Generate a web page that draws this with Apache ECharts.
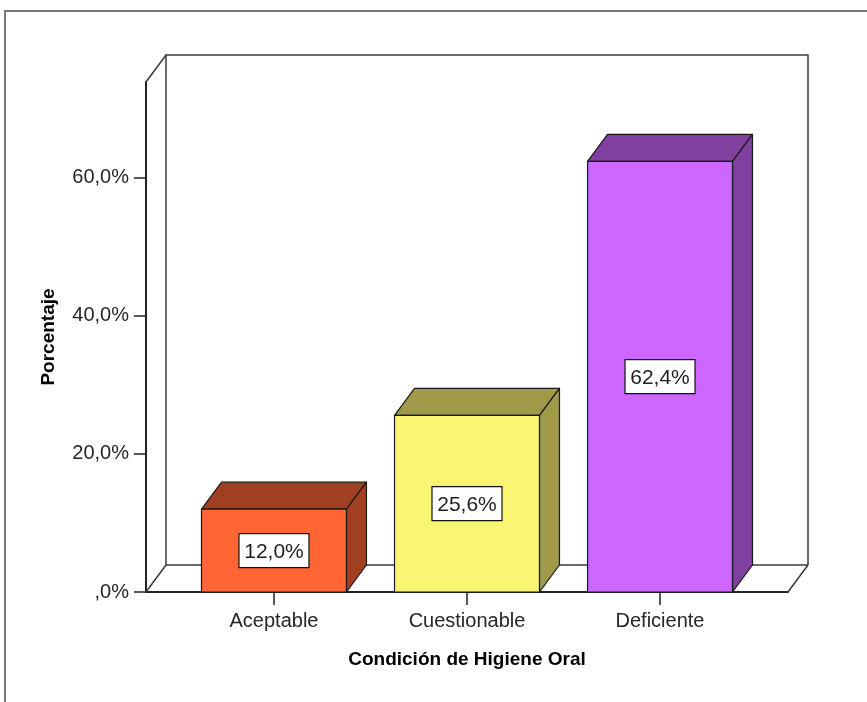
<!DOCTYPE html>
<html>
<head>
<meta charset="utf-8">
<script src="https://cdn.jsdelivr.net/npm/echarts@6/dist/echarts.min.js"></script>
<style>
  html, body { margin: 0; padding: 0; background: #fff; }
  #chart { width: 867px; height: 702px; }
</style>
</head>
<body>
<div id="chart"></div>
<script>
// ---- data ----
const categories = ['Aceptable', 'Cuestionable', 'Deficiente'];
const percentages = [12.0, 25.6, 62.4];
const valueLabels = ['12,0%', '25,6%', '62,4%'];
const tickValues = [0, 20, 40, 60];
const tickLabels = [',0%', '20,0%', '40,0%', '60,0%'];
const categoryPositions = [0, 1, 2];
const xAxisTitle = 'Condición de Higiene Oral';
const yAxisTitle = 'Porcentaje';

// ---- style ----
const frontColors = ['#FF6633', '#F9F573', '#CC66FF'];
const shadeColors = ['#A04020', '#A09948', '#8040A0'];
const X_MIN = -0.663, X_MAX = 2.663, Y_MAX = 73.9;
const BAR_W = 0.751;
const DX = 20, DY = 27;
const FONT = '"Liberation Sans", Arial, sans-serif';

const chart = echarts.init(document.getElementById('chart'), null, { renderer: 'canvas' });

function renderFrame(params, api) {
  const fb = api.coord([X_MIN, 0]);
  const ft = api.coord([X_MIN, Y_MAX]);
  const rb = api.coord([X_MAX, 0]);
  const bl = [fb[0] + DX, fb[1] - DY];
  const bt = [ft[0] + DX, ft[1] - DY];
  const br = [rb[0] + DX, rb[1] - DY];
  const brt = [br[0], bt[1]];
  const ls = { stroke: '#3a3a3a', lineWidth: 1.5, fill: null };
  return {
    type: 'group',
    children: [
      { type: 'polyline', shape: { points: [bl, bt, brt, br] }, style: ls },
      { type: 'line', shape: { x1: bl[0], y1: bl[1], x2: br[0], y2: br[1] }, style: ls },
      { type: 'line', shape: { x1: fb[0], y1: fb[1], x2: bl[0], y2: bl[1] }, style: ls },
      { type: 'line', shape: { x1: rb[0], y1: rb[1], x2: br[0], y2: br[1] }, style: ls },
      { type: 'line', shape: { x1: ft[0], y1: ft[1], x2: bt[0], y2: bt[1] }, style: ls }
    ]
  };
}

function renderBar(params, api) {
  const i = params.dataIndex;
  const x = api.value(0), v = api.value(1);
  const top = api.coord([x, v]);
  const base = api.coord([x, 0]);
  const w = api.size([BAR_W, 0])[0];
  const x0 = top[0] - w / 2, x1 = top[0] + w / 2;
  const yT = top[1], yB = base[1];
  const st = { stroke: '#1a1a1a', lineWidth: 1.2, lineJoin: 'round' };
  const cx = top[0], cy = (yT + yB) / 2;
  const boxW = 70, boxH = 34;
  return {
    type: 'group',
    children: [
      { type: 'polygon', shape: { points: [[x0, yT], [x0 + DX, yT - DY], [x1 + DX, yT - DY], [x1, yT]] },
        style: Object.assign({ fill: shadeColors[i] }, st) },
      { type: 'polygon', shape: { points: [[x1, yT], [x1 + DX, yT - DY], [x1 + DX, yB - DY], [x1, yB]] },
        style: Object.assign({ fill: shadeColors[i] }, st) },
      { type: 'rect', shape: { x: x0, y: yT, width: w, height: yB - yT },
        style: Object.assign({ fill: frontColors[i] }, st) },
      { type: 'rect', shape: { x: cx - boxW / 2, y: cy - boxH / 2, width: boxW, height: boxH },
        style: { fill: '#ffffff', stroke: '#111', lineWidth: 1.2 } },
      { type: 'text', x: cx, y: cy + 2,
        style: { text: valueLabels[i], fill: '#1e1e1e', font: '21px ' + FONT, align: 'center', verticalAlign: 'middle' } }
    ]
  };
}

const option = {
  animation: false,
  backgroundColor: '#ffffff',
  grid: { left: 146, right: 79, top: 82, bottom: 110, containLabel: false, outerBoundsMode: 'none' },
  xAxis: {
    type: 'value', min: X_MIN, max: X_MAX,
    name: xAxisTitle, nameLocation: 'middle', nameGap: 58,
    nameTextStyle: { fontFamily: FONT, fontSize: 19, fontWeight: 'bold', color: '#000' },
    axisLine: { show: true, onZero: false, lineStyle: { color: '#222', width: 2 } },
    axisTick: { show: true, length: 13, customValues: categoryPositions, lineStyle: { color: '#222', width: 1.5 } },
    axisLabel: {
      show: true, margin: 19, customValues: categoryPositions,
      fontFamily: FONT, fontSize: 20, color: '#262626',
      formatter: function (v) { const k = categoryPositions.indexOf(Math.round(v)); return (Math.abs(v - Math.round(v)) < 1e-6 && k >= 0) ? categories[k] : ''; }
    },
    splitLine: { show: false }
  },
  yAxis: {
    type: 'value', min: 0, max: Y_MAX,
    name: yAxisTitle, nameLocation: 'middle', nameGap: 88, nameRotate: 90,
    nameTextStyle: { fontFamily: FONT, fontSize: 19, fontWeight: 'bold', color: '#000' },
    axisLine: { show: true, onZero: false, lineStyle: { color: '#222', width: 2 } },
    axisTick: { show: true, length: 12, customValues: tickValues, lineStyle: { color: '#222', width: 1.5 } },
    axisLabel: {
      show: true, margin: 17, customValues: tickValues,
      fontFamily: FONT, fontSize: 20, color: '#262626', padding: [4, 0, 0, 0],
      formatter: function (v) { const k = tickValues.indexOf(v); return k >= 0 ? tickLabels[k] : ''; }
    },
    splitLine: { show: false }
  },
  graphic: [
    { type: 'line', shape: { x1: 4, y1: 11, x2: 867, y2: 11 }, style: { stroke: '#7a7a7a', lineWidth: 2 } },
    { type: 'line', shape: { x1: 5, y1: 11, x2: 5, y2: 702 }, style: { stroke: '#7a7a7a', lineWidth: 2 } }
  ],
  series: [
    { type: 'custom', name: 'frame', z: 1, clip: false, renderItem: renderFrame, data: [[0, 0]], encode: { x: 0, y: 1 }, silent: true },
    { type: 'custom', name: 'bars', z: 3, clip: false, renderItem: renderBar,
      data: categoryPositions.map(function (p, i) { return [p, percentages[i]]; }), encode: { x: 0, y: 1 } }
  ]
};
chart.setOption(option);
</script>
</body>
</html>
